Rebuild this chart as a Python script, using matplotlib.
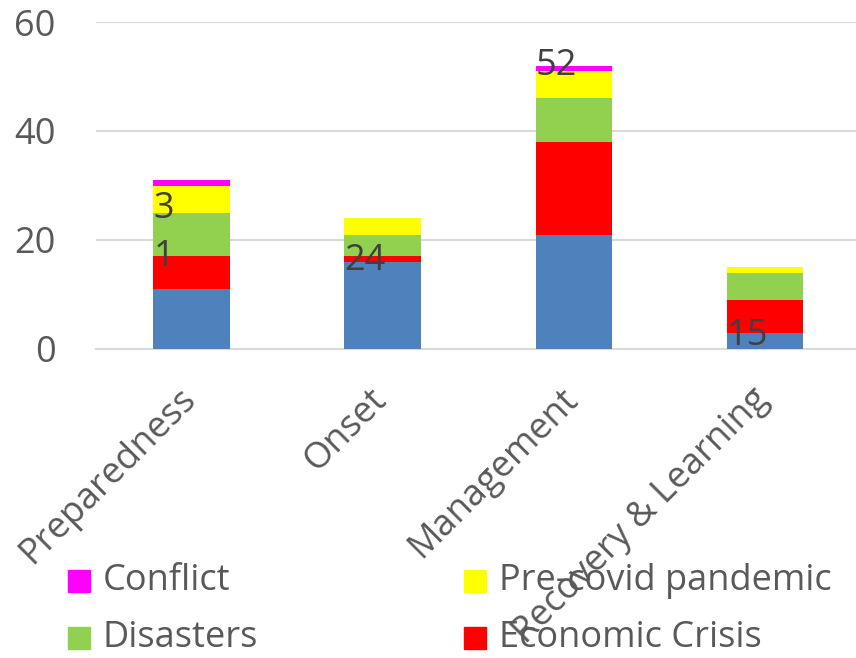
import matplotlib
matplotlib.use("Agg")
import matplotlib.pyplot as plt
from matplotlib.patches import Rectangle
from matplotlib.transforms import ScaledTranslation
import numpy as np

categories = ["Preparedness", "Onset", "Management", "Recovery & Learning"]
covid = [11, 16, 21, 3]
economic = [6, 1, 17, 6]
disasters = [8, 4, 8, 5]
precovid = [5, 3, 5, 1]
conflict = [1, 0, 1, 0]

series_names = ["COVID-19", "Economic Crisis", "Disasters", "Pre-covid pandemic", "Conflict"]
series_vals = [covid, economic, disasters, precovid, conflict]
series_colors = ["#4f81bd", "#ff0000", "#92d050", "#ffff00", "#ff00ff"]

# data labels as they appear (text, category index, y value)
label_texts = ["3", "1", "24", "52", "15"]
label_cats = [0, 0, 1, 2, 3]
label_y = [25.6, 16.8, 16.2, 51.9, 2.3]

yticks = [0, 20, 40, 60]

plt.rcParams['font.family'] = ['Open Sans', 'DejaVu Sans']
W, H = 856, 658
fig = plt.figure(figsize=(W / 100, H / 100), dpi=100)
ax = fig.add_axes([96 / W, 1 - 349 / H, (860.5 - 96) / W, (349 - 22) / H])

x = np.arange(len(categories))
bottom = np.zeros(len(categories))
bw = 0.4
for name, vals, col in zip(series_names, series_vals, series_colors):
    ax.bar(x, vals, bw, bottom=bottom, color=col, label=name, zorder=3)
    bottom += np.array(vals)

grey = "#595959"
for t, c, yv in zip(label_texts, label_cats, label_y):
    ax.text(c - bw / 2, yv, t, ha="left", va="center", fontsize=26, color="#404040", zorder=5)

ax.set_xlim(-0.5, len(categories) - 0.5)
ax.set_ylim(0, 60)
ax.set_yticks(yticks)
ax.yaxis.grid(True, color="#d9d9d9", linewidth=1.5, zorder=0)
ax.set_axisbelow(True)
for s in ["top", "right", "left"]:
    ax.spines[s].set_visible(False)
ax.spines["bottom"].set_color("#d9d9d9")
ax.spines["bottom"].set_linewidth(1.5)
ax.tick_params(axis="y", length=0, pad=29, labelsize=26, labelcolor=grey)
ax.tick_params(axis="x", length=0, pad=8, labelsize=26, labelcolor=grey)
ax.set_xticks(x)
ax.set_xticklabels(categories, rotation=45, ha="right", rotation_mode="anchor")
off = ScaledTranslation(-14 / 100, -21 / 100, fig.dpi_scale_trans)
for lab in ax.get_xticklabels():
    lab.set_transform(lab.get_transform() + off)

# legend (manual, 2 columns)
leg_names = ["Conflict", "Pre-covid pandemic", "Disasters", "Economic Crisis"]
leg_colors = ["#ff00ff", "#ffff00", "#92d050", "#ff0000"]
col_x = [68, 464]
row_y = [581, 638]
sq = 22
for i, (n, c) in enumerate(zip(leg_names, leg_colors)):
    cx = col_x[i % 2]
    ry = row_y[i // 2]
    fig.add_artist(Rectangle((cx / W, 1 - (ry + sq / 2) / H), sq / W, sq / H,
                             transform=fig.transFigure, color=c, zorder=1))
    fig.text((cx + 35) / W, 1 - ry / H, n, ha="left", va="center", fontsize=26, color=grey, zorder=1)

fig.savefig("out.png", dpi=100)
